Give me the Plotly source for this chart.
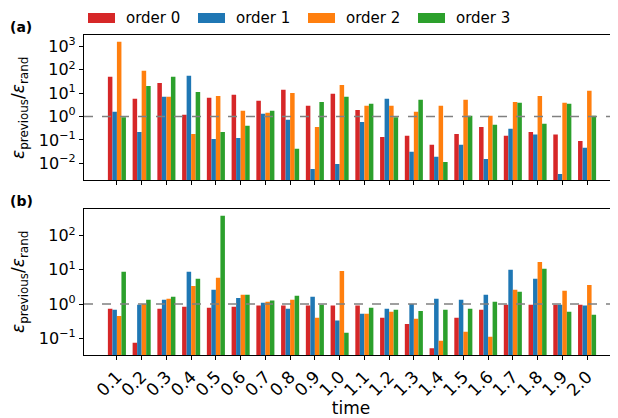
import plotly.graph_objects as go

times = ["0.1","0.2","0.3","0.4","0.5","0.6","0.7","0.8","0.9","1.0",
         "1.1","1.2","1.3","1.4","1.5","1.6","1.7","1.8","1.9","2.0"]
series_names = ["order 0", "order 1", "order 2", "order 3"]
colors = ["#d62728", "#1f77b4", "#ff7f0e", "#2ca02c"]

# panel (a)
a_order0 = [50, 5.7, 27, 1.2, 6.3, 8.5, 4.7, 14, 2.9, 9.3, 1.9, 0.135, 0.15, 0.062, 0.18, 0.36, 0.15, 0.22, 0.17, 0.09]
a_order1 = [1.6, 0.22, 6.9, 55, 0.11, 0.12, 1.3, 0.72, 0.0058, 0.0095, 0.59, 5.7, 0.031, 0.019, 0.062, 0.0155, 0.3, 0.17, 0.0035, 0.046]
a_order2 = [1550, 90, 6.9, 0.18, 7.6, 1.75, 1.45, 10, 0.36, 22, 2.9, 2.9, 1.6, 2.9, 5.2, 1.07, 4.2, 7.6, 3.9, 12.5]
a_order3 = [0.93, 20, 50, 11, 0.22, 0.4, 1.75, 0.042, 4.2, 6.9, 3.5, 0.93, 5.2, 0.0115, 1.07, 0.44, 3.9, 0.49, 3.5, 1.07]

# panel (b)
b_order0 = [0.73, 0.074, 0.73, 0.83, 0.78, 0.83, 0.9, 0.9, 0.9, 0.9, 0.9, 0.4, 0.26, 0.051, 0.4, 0.68, 0.95, 0.95, 0.95, 0.95]
b_order1 = [0.68, 0.95, 1.34, 8.8, 2.6, 1.5, 1.1, 0.73, 1.63, 0.33, 0.52, 0.73, 1.0, 1.43, 1.34, 1.86, 10, 5.5, 0.95, 0.9]
b_order2 = [0.45, 1.0, 1.43, 3.4, 5.9, 1.86, 1.17, 1.34, 0.4, 9.3, 0.52, 0.6, 0.37, 0.085, 0.155, 0.11, 2.6, 17, 2.45, 3.6]
b_order3 = [8.8, 1.34, 1.63, 5.5, 380, 1.86, 1.26, 1.75, 0.95, 0.145, 0.78, 0.68, 0.63, 0.68, 0.73, 1.17, 2.3, 10.8, 0.6, 0.49]

a_series = [a_order0, a_order1, a_order2, a_order3]
b_series = [b_order0, b_order1, b_order2, b_order3]

a_ticks = [-2, -1, 0, 1, 2, 3]
b_ticks = [-1, 0, 1, 2]

FONT = "DejaVu Sans"
xpos = list(range(len(times)))

fig = go.Figure()
for name, col, vals in zip(series_names, colors, a_series):
    fig.add_trace(go.Bar(x=xpos, y=vals, name=name, marker=dict(color=col, line=dict(width=0)),
                         xaxis="x", yaxis="y", showlegend=False, offsetgroup=name))
for name, col, vals in zip(series_names, colors, b_series):
    fig.add_trace(go.Bar(x=xpos, y=vals, name=name, marker=dict(color=col, line=dict(width=0)),
                         xaxis="x2", yaxis="y2", showlegend=False, offsetgroup=name))

def sup_label(e):
    s = str(e).replace("-", "\u2212")
    return f"10<sup>{s}</sup>"

# page has an 8px body margin: figure drawn at offset (8, 8)
OFF = 8
W, H = 618 - OFF, 418 - OFF
L, R, T = 84 - OFF, 0, 35 - OFF
B = H - (355 - OFF)
pw = W - L - R
ph = H - T - B

def px(xp):  # page x -> paper
    return (xp - OFF - L) / pw

def py(yp):  # page y -> paper
    return (H - B - (yp - OFF)) / ph

top_dom = [py(180), 1.0]
bot_dom = [0.0, py(209)]

xr = [-1.33, len(times) - 1 + 1.25]
common_x = dict(range=xr, showline=True, linecolor="black", linewidth=1.2, mirror=True,
                ticks="outside", ticklen=4, tickcolor="black", showgrid=False, zeroline=False,
                tickvals=xpos, tickfont=dict(family=FONT, size=17, color="black"))

common_y = dict(showline=True, linecolor="black", linewidth=1.2, mirror=False,
                ticks="outside", ticklen=4, tickcolor="black", showgrid=False, zeroline=False,
                tickfont=dict(family=FONT, size=16, color="black"))

fig.update_layout(
    width=W, height=H,
    margin=dict(l=L, r=R, t=T, b=B, autoexpand=False),
    paper_bgcolor="white", plot_bgcolor="white",
    barmode="group", bargap=0.27, bargroupgap=0,
    font=dict(family=FONT, color="black"),
    xaxis=dict(anchor="y", domain=[0, 1], showticklabels=False, **common_x),
    xaxis2=dict(anchor="y2", domain=[0, 1], ticktext=times, tickangle=-45,
                title=dict(text="time", font=dict(family=FONT, size=17, color="black"), standoff=0),
                **common_x),
    yaxis=dict(anchor="x", domain=top_dom, type="log", range=[-2.71, 3.48],
               tickvals=[10 ** e for e in a_ticks], ticktext=[sup_label(e) for e in a_ticks],
               **common_y),
    yaxis2=dict(anchor="x2", domain=bot_dom, type="log", range=[-1.49, 2.78],
                tickvals=[10 ** e for e in b_ticks], ticktext=[sup_label(e) for e in b_ticks],
                **common_y),
)

# reference dashed lines at 1
for yref, xref in [("y", "x domain"), ("y2", "x2 domain")]:
    fig.add_shape(type="line", xref=xref, x0=0, x1=1, yref=yref, y0=1, y1=1,
                  line=dict(color="gray", width=1.5, dash="dash"), layer="above")

ytitle = "<i>\u03b5</i><sub>previous</sub>/<i>\u03b5</i><sub>rand</sub>"
for yc in [108, 282]:
    fig.add_annotation(text=ytitle, xref="paper", yref="paper", x=px(19),
                       y=py(yc), showarrow=False, textangle=-90,
                       font=dict(family=FONT, size=17, color="black"), xanchor="center", yanchor="middle")

# panel labels
for lab, yc in [("<b>(a)</b>", 27), ("<b>(b)</b>", 201)]:
    fig.add_annotation(text=lab, xref="paper", yref="paper", x=px(8),
                       y=py(yc), showarrow=False, xanchor="left", yanchor="middle",
                       font=dict(family=FONT, size=14, color="black"))

# legend (custom)
leg_x = [88, 198, 308, 418]
for name, col, lx in zip(series_names, colors, leg_x):
    fig.add_shape(type="rect", xref="paper", yref="paper",
                  x0=px(lx), x1=px(lx + 27), y0=py(23), y1=py(13),
                  fillcolor=col, line=dict(width=0))
    fig.add_annotation(text=name, xref="paper", yref="paper", x=px(lx + 36),
                       y=py(18), showarrow=False, xanchor="left", yanchor="middle",
                       font=dict(family=FONT, size=15, color="black"))

fig.write_html("out.html")
